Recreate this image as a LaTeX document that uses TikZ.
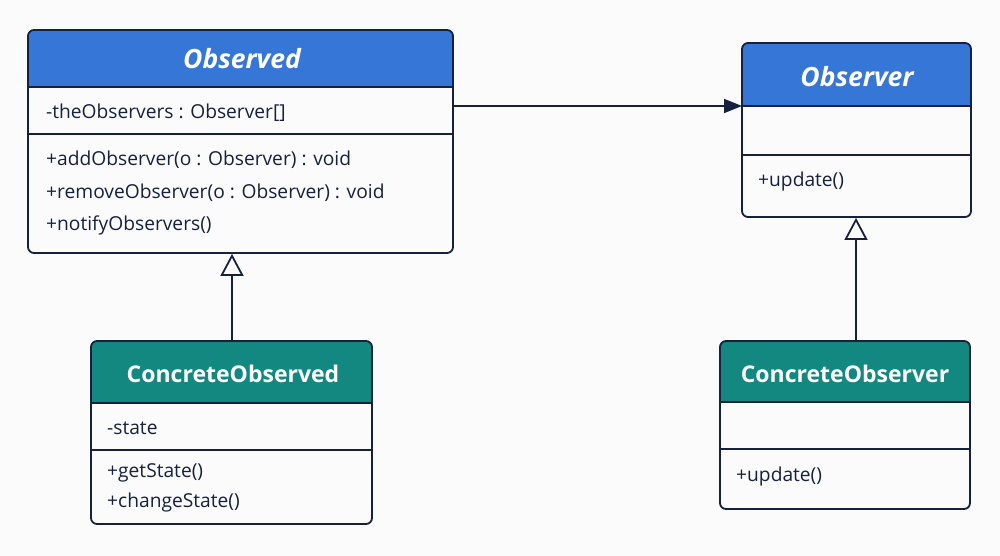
\documentclass[tikz,border=0pt]{standalone}
\usepackage{fontspec}
\setmainfont{Open Sans}
\usetikzlibrary{arrows.meta,fit}
\definecolor{ink}{HTML}{16213D}
\definecolor{hblue}{HTML}{3576D6}
\definecolor{hteal}{HTML}{138880}
\definecolor{bg}{HTML}{FBFBFB}
\tikzset{
  outline/.style={draw=ink, line width=1.8pt},
  classbox/.style={outline, rounded corners=6pt, inner sep=0pt},
  title/.style={text=white, font=\fontsize{23}{27}\selectfont\bfseries},
  ititle/.style={text=white, font=\fontsize{26.5}{30}\selectfont\bfseries\itshape},
  member/.style={text=ink, anchor=west, inner sep=0pt, font=\fontsize{19.2}{22}\selectfont},
  inherit/.style={outline, -{Triangle[open, length=22pt, width=23pt, line width=1.8pt]}},
  assoc/.style={outline, -{Triangle[length=18pt, width=14pt]}}
}
% #1 name, #2 left, #3 top, #4 right, #5 bottom, #6 header bottom, #7 divider, #8 colour
\newcommand\umlcls[8]{%
  \fill[#8] (#2,#6) [rounded corners=6pt] -- (#2,#3) -- (#4,#3) [sharp corners] -- (#4,#6) -- cycle;
  \coordinate (#1-tl) at (#2,#3);
  \coordinate (#1-br) at (#4,#5);
  \node[classbox, fit=(#1-tl)(#1-br)] (#1) {};
  \draw[outline] (#2,#6) coordinate (#1-h) -- (#4,#6);
  \draw[outline] (#2,#7) -- (#4,#7);
}
\begin{document}
\begin{tikzpicture}[x=1pt,y=-1pt]
\fill[bg] (0,0) rectangle (1000,556);
\useasboundingbox (0,0) rectangle (1000,556);

\umlcls{obsd}{28}{30}{453}{253}{87}{134}{hblue}
\node[ititle] (obsdT) at (242,59) {Observed};
\node[member] (obsdA) at (46,113) {-theObservers : Observer[]};
\node[member] (obsdM1) at (46,160) {+addObserver(o : Observer) : void};
\node[member] (obsdM2) at (46,193) {+removeObserver(o : Observer) : void};
\node[member] (obsdM3) at (46,225) {+notifyObservers()};

\umlcls{obsr}{742}{43}{971}{217}{106}{155}{hblue}
\node[ititle] (obsrT) at (857,77) {Observer};
\node[member] (obsrM1) at (758,182) {+update()};

\umlcls{cobsd}{91}{341}{372}{524}{403}{450}{hteal}
\node[title] (cobsdT) at (233,374) {ConcreteObserved};
\node[member] (cobsdA) at (107,428) {-state};
\node[member] (cobsdM1) at (107,473) {+getState()};
\node[member] (cobsdM2) at (107,503) {+changeState()};

\umlcls{cobsr}{720}{341}{970}{509}{402}{449}{hteal}
\node[title] (cobsrT) at (845,374) {ConcreteObserver};
\node[member] (cobsrM1) at (736,477) {+update()};

\draw[assoc] (obsd.east |- obsr-h) -- (obsr-h);
\draw[inherit] (cobsd.north -| 232,0) -- (obsd.south -| 232,0);
\draw[inherit] (cobsr.north -| 856,0) -- (obsr.south -| 856,0);
\end{tikzpicture}
\end{document}
